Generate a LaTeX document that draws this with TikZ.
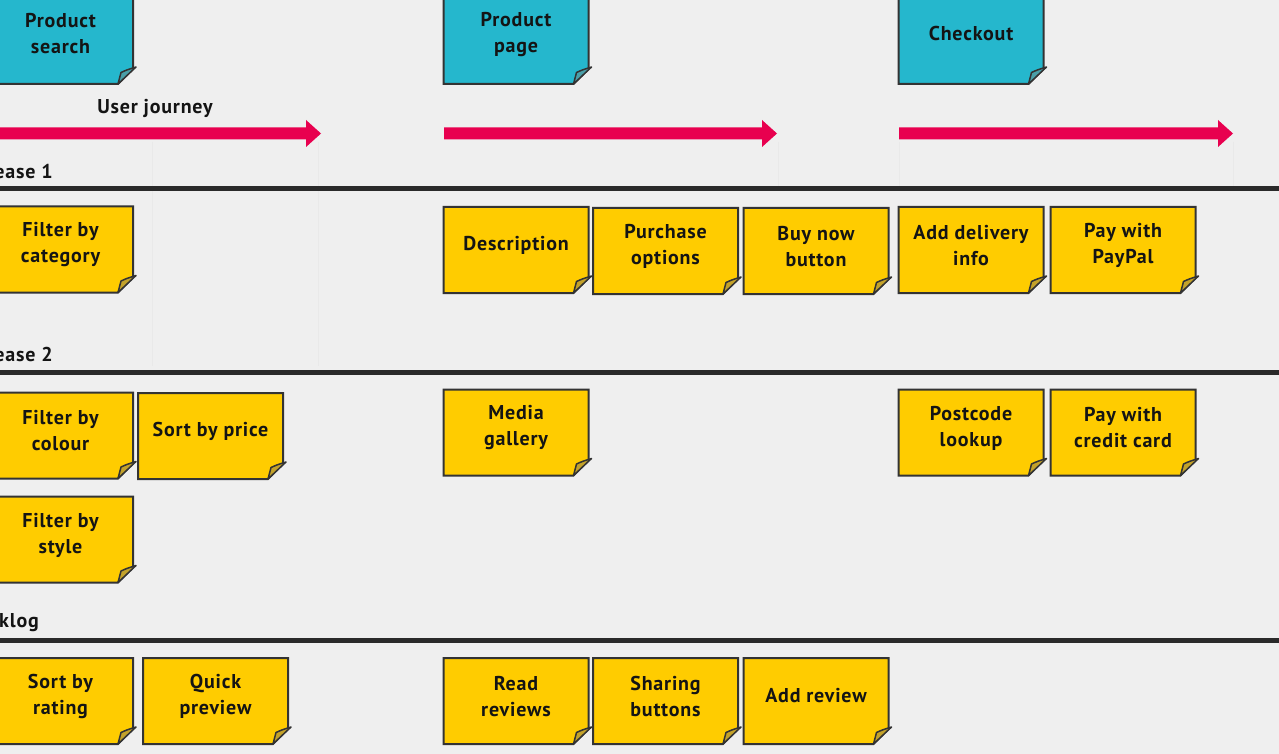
\documentclass[tikz,border=0pt]{standalone}
\usepackage{fontspec}
\setmainfont{PT Sans}[LetterSpace=4]
\definecolor{bgc}{HTML}{EFEFEF}
\definecolor{cyanN}{HTML}{25B7CD}
\definecolor{cyanF}{HTML}{4A9FA8}
\definecolor{yelN}{HTML}{FFCC00}
\definecolor{yelF}{HTML}{C3A22A}
\definecolor{pinkA}{HTML}{E8004F}
\definecolor{lineC}{HTML}{2A2A2A}
\definecolor{edgeC}{HTML}{333333}
\definecolor{txtC}{HTML}{141414}
\definecolor{faintC}{HTML}{E9E9E9}
\tikzset{
  notefill/.style={fill=#1, draw=edgeC, line width=2pt, line join=miter},
  foldfill/.style={fill=#1, draw=edgeC, line width=1.5pt, line join=round},
  notetext/.style={align=center, font=\bfseries\fontsize{20}{26}\selectfont, text=txtC, inner sep=0pt},
  lanetext/.style={font=\bfseries\fontsize{20}{24}\selectfont, text=txtC, inner sep=0pt},
  journey/.style={fill=pinkA},
  laneline/.style={fill=lineC},
  faint/.style={draw=faintC, line width=0.7pt}
}
% #1 name, #2 cx, #3 cy, #4 fill, #5 fold, #6 text y offset, #7 text
\newcommand\sticky[7]{%
  \filldraw[notefill=#4] (#2-72.5,#3-43) -- (#2+72.5,#3-43) -- (#2+72.5,#3+28) -- (#2+57.5,#3+43) -- (#2-72.5,#3+43) -- cycle;
  \filldraw[foldfill=#5] (#2+75.5,#3+26) .. controls (#2+66,#3+29) .. (#2+60.5,#3+31.5) -- (#2+57.5,#3+43) -- cycle;
  \node[notetext] (#1) at (#2,#3+#6) {#7};
}
\newcommand\journeyarrow[2]{%
  \fill[journey] (#1,127.5) -- (#2-15,127.5) -- (#2-15,120) -- (#2,133.5) -- (#2-15,147) -- (#2-15,139.5) -- (#1,139.5) -- cycle;
}
\begin{document}
\begin{tikzpicture}[x=1pt,y=-1pt]
\useasboundingbox (0,0) rectangle (1279,754);
\fill[bgc] (0,0) rectangle (1279,754);
\clip (0,0) rectangle (1279,754);
% faint guide lines
\draw[faint] (152,142) -- (152,366);
\draw[faint] (318,142) -- (318,366);
\draw[faint] (778,142) -- (778,186);
\draw[faint] (899,142) -- (899,186);
\draw[faint] (1233,142) -- (1233,186);
% lane lines
\fill[laneline] (0,186.5) rectangle (1279,191.5);
\fill[laneline] (0,369.5) rectangle (1279,374.5);
\fill[laneline] (0,637.5) rectangle (1279,642.5);
% lane labels
\node[lanetext, anchor=east] (rel1) at (53,172) {Release 1};
\node[lanetext, anchor=east] (rel2) at (53,354) {Release 2};
\node[lanetext, anchor=east] (backlog) at (39,623) {Backlog};
\node[lanetext] (uj) at (155,108) {User journey};
% journey arrows
\journeyarrow{-5}{321}
\journeyarrow{444}{777}
\journeyarrow{899}{1233}
% activities
\sticky{ps}{60.5}{41}{cyanN}{cyanF}{-7}{Product\\search}
\sticky{pp}{516}{41}{cyanN}{cyanF}{-6}{Product\\page}
\sticky{co}{971}{41}{cyanN}{cyanF}{-7}{Checkout}
% release 1
\sticky{fcat}{60.5}{249.5}{yelN}{yelF}{-4.5}{Filter by\\category}
\sticky{desc}{516}{250}{yelN}{yelF}{-4.5}{Description}
\sticky{popt}{665.5}{251}{yelN}{yelF}{-4.5}{Purchase\\options}
\sticky{buy}{816}{251}{yelN}{yelF}{-4.5}{Buy now\\button}
\sticky{deliv}{971}{250}{yelN}{yelF}{-4.5}{Add delivery\\info}
\sticky{paypal}{1123}{250}{yelN}{yelF}{-4.5}{Pay with\\PayPal}
% release 2
\sticky{fcol}{60.5}{435.5}{yelN}{yelF}{-4.5}{Filter by\\colour}
\sticky{sprice}{210.5}{436}{yelN}{yelF}{-5}{Sort by price}
\sticky{media}{516}{432.5}{yelN}{yelF}{-4.5}{Media\\gallery}
\sticky{post}{971}{432.5}{yelN}{yelF}{-4.5}{Postcode\\lookup}
\sticky{card}{1123}{432.5}{yelN}{yelF}{-4.5}{Pay with\\credit card}
\sticky{fsty}{60.5}{539.5}{yelN}{yelF}{-4.5}{Filter by\\style}
% backlog
\sticky{srat}{60.5}{701}{yelN}{yelF}{-4.5}{Sort by\\rating}
\sticky{qprev}{215.5}{701}{yelN}{yelF}{-4.5}{Quick\\preview}
\sticky{rrev}{516}{701}{yelN}{yelF}{-4.5}{Read\\reviews}
\sticky{share}{665.5}{701}{yelN}{yelF}{-4.5}{Sharing\\buttons}
\sticky{addrev}{816}{701}{yelN}{yelF}{-5}{Add review}
\end{tikzpicture}
\end{document}
